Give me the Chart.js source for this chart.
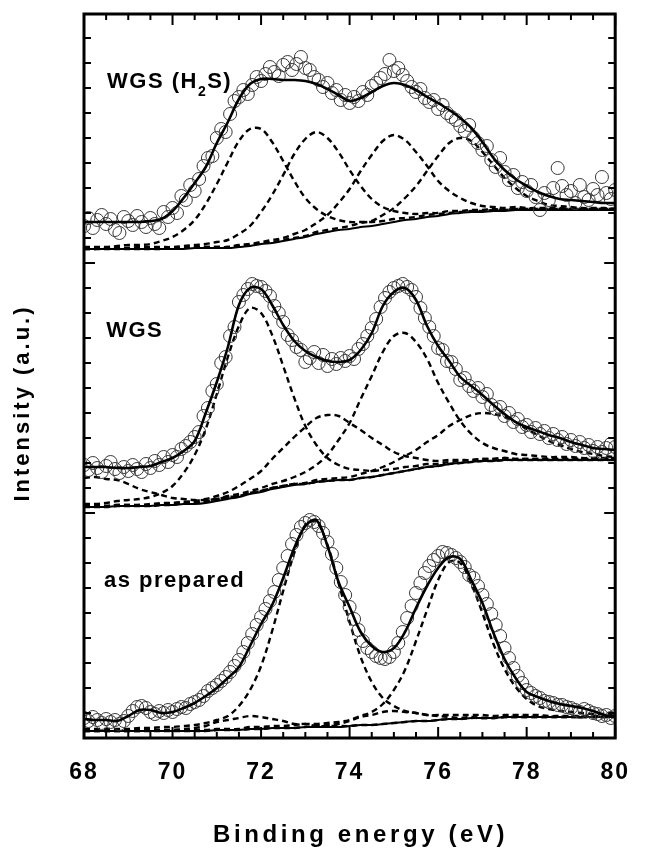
<!DOCTYPE html>
<html>
<head>
<meta charset="utf-8">
<script src="https://cdn.jsdelivr.net/npm/chart.js@4.4.1/dist/chart.umd.min.js"></script>
<style>
  html, body { margin: 0; padding: 0; background: #fff; }
  #wrap { width: 649px; height: 853px; }
</style>
</head>
<body>
<div id="wrap"><canvas id="xps" width="649" height="853"></canvas></div>
<script>
// binding energy grid of the fitted curves (eV)
const energyFit = [
  68, 68.25, 68.5, 68.75, 69, 69.25, 69.5, 69.75, 70, 70.25, 70.5, 70.75,
  71, 71.25, 71.5, 71.75, 72, 72.25, 72.5, 72.75, 73, 73.25, 73.5, 73.75,
  74, 74.25, 74.5, 74.75, 75, 75.25, 75.5, 75.75, 76, 76.25, 76.5, 76.75,
  77, 77.25, 77.5, 77.75, 78, 78.25, 78.5, 78.75, 79, 79.25, 79.5, 79.75, 80
]
// binding energy of the measured points (eV)
const energyData = [
  68, 68.1, 68.2, 68.3, 68.4, 68.5, 68.6, 68.7, 68.8, 68.9,
  69, 69.1, 69.2, 69.3, 69.4, 69.5, 69.6, 69.7, 69.8, 69.9,
  70, 70.1, 70.2, 70.3, 70.4, 70.5, 70.6, 70.7, 70.8, 70.9,
  71, 71.1, 71.2, 71.3, 71.4, 71.5, 71.6, 71.7, 71.8, 71.9,
  72, 72.1, 72.2, 72.3, 72.4, 72.5, 72.6, 72.7, 72.8, 72.9,
  73, 73.1, 73.2, 73.3, 73.4, 73.5, 73.6, 73.7, 73.8, 73.9,
  74, 74.1, 74.2, 74.3, 74.4, 74.5, 74.6, 74.7, 74.8, 74.9,
  75, 75.1, 75.2, 75.3, 75.4, 75.5, 75.6, 75.7, 75.8, 75.9,
  76, 76.1, 76.2, 76.3, 76.4, 76.5, 76.6, 76.7, 76.8, 76.9,
  77, 77.1, 77.2, 77.3, 77.4, 77.5, 77.6, 77.7, 77.8, 77.9,
  78, 78.1, 78.2, 78.3, 78.4, 78.5, 78.6, 78.7, 78.8, 78.9,
  79, 79.1, 79.2, 79.3, 79.4, 79.5, 79.6, 79.7, 79.8, 79.9,
  80
]
const xLabels = [68, 70, 72, 74, 76, 78, 80]

// --- WGS (H2S), top spectrum (intensity incl. offset) ---
const h2sData = [
  512, 520, 510, 518, 523, 514, 519, 508, 505, 521,
  517, 513, 522, 516, 511, 520, 514, 510, 526, 521,
  530, 525, 542, 538, 553, 547, 559, 572, 580, 582,
  600, 609, 606, 624, 637, 641, 648, 644, 653, 661,
  657, 664, 671, 666, 662, 673, 676, 668, 674, 681,
  670, 668, 661, 658, 651, 655, 645, 648, 638, 643,
  635, 641, 637, 646, 643, 652, 655, 660, 664, 678,
  667, 670, 663, 657, 651, 646, 649, 640, 636, 638,
  629, 633, 625, 621, 618, 612, 607, 613, 600, 595,
  588, 592, 578, 571, 580, 566, 558, 563, 550, 556,
  547, 553, 541, 528, 545, 538, 550, 570, 552, 543,
  547, 535, 553, 541, 538, 549, 543, 561, 545, 539,
  548
]
const h2sFit = [
  516, 516, 516, 516, 516, 516, 517, 519, 527, 540, 555, 571,
  595, 616, 639, 654, 659, 659, 658, 658, 657, 654, 649, 643,
  637, 640, 646, 652, 655, 653, 648, 641, 635, 628, 620, 610,
  596, 580, 568, 559, 552, 546, 542, 539, 538, 537, 536, 535, 535
]
const h2sBg = [
  489, 489, 489, 489, 489, 489, 489, 489, 489, 489, 490, 490,
  490, 490, 491, 492, 494, 495, 497, 499, 501, 504, 506, 508,
  509, 511, 512, 514, 516, 518, 519, 521, 522, 524, 525, 526,
  526, 527, 527, 528, 528, 528, 528, 528, 528, 528, 528, 528, 528
]
const h2sPeak1 = [
  491, 491, 491, 492, 493, 493, 494, 497, 501, 508, 518, 534,
  554, 576, 597, 609, 609, 596, 577, 557, 540, 529, 522, 518,
  516, 516, 516, 517, 519, 520, 521, 523, 524, 525, 526, 527,
  527, 528, 528, 529, 529, 529, 529, 529, 529, 529, 529, 529, 529
]
const h2sPeak2 = [
  490, 490, 490, 490, 490, 491, 491, 491, 491, 492, 493, 494,
  496, 498, 504, 512, 526, 543, 563, 584, 599, 606, 600, 586,
  568, 552, 539, 531, 527, 525, 524, 525, 525, 527, 527, 528,
  528, 529, 528, 529, 529, 529, 529, 529, 529, 529, 529, 529, 529
]
const h2sPeak3 = [
  489, 489, 490, 490, 490, 490, 490, 490, 490, 490, 491, 491,
  491, 491, 493, 494, 496, 498, 500, 504, 508, 515, 523, 535,
  549, 567, 583, 597, 603, 598, 586, 572, 557, 547, 540, 535,
  532, 531, 530, 531, 530, 530, 530, 530, 529, 529, 529, 529, 529
]
const h2sPeak4 = [
  489, 489, 489, 489, 489, 489, 489, 489, 490, 490, 491, 491,
  491, 491, 492, 493, 495, 496, 498, 500, 502, 506, 508, 510,
  512, 515, 517, 523, 530, 540, 552, 567, 582, 595, 600, 597,
  586, 573, 560, 550, 542, 537, 533, 532, 531, 530, 530, 530, 529
]

// --- WGS, middle spectrum ---
const wgsData = [
  273, 268, 275, 270, 266, 272, 276, 269, 265, 271,
  267, 273, 269, 266, 274, 270, 277, 273, 281, 276,
  283, 281, 289, 292, 296, 301, 306, 322, 330, 347,
  354, 375, 381, 402, 411, 436, 443, 449, 454, 452,
  451, 447, 442, 432, 425, 416, 403, 398, 391, 388,
  376, 380, 386, 375, 383, 372, 379, 374, 380, 377,
  382, 379, 389, 394, 402, 410, 419, 431, 440, 446,
  450, 452, 454, 451, 448, 441, 430, 420, 411, 402,
  390, 388, 377, 376, 369, 358, 360, 352, 347, 350,
  341, 344, 333, 329, 331, 322, 325, 316, 319, 311,
  313, 306, 310, 304, 307, 300, 304, 298, 301, 294,
  298, 292, 296, 290, 293, 287, 291, 286, 290, 294,
  291
]
const wgsFit = [
  271, 271, 271, 270, 270, 271, 272, 276, 280, 287, 297, 325,
  356, 391, 433, 450, 449, 433, 413, 397, 387, 381, 377, 376,
  378, 388, 405, 432, 446, 450, 438, 412, 392, 377, 361, 352,
  343, 333, 324, 316, 311, 307, 303, 300, 296, 293, 290, 289, 288
]
const wgsBg = [
  231, 231, 231, 232, 232, 232, 232, 233, 233, 234, 234, 235,
  237, 239, 241, 244, 246, 249, 251, 253, 254, 256, 257, 258,
  258, 260, 261, 263, 265, 267, 269, 271, 272, 274, 275, 276,
  277, 277, 278, 278, 278, 278, 278, 278, 278, 278, 278, 278, 278
]
const wgsPeak0 = [
  260, 261, 259, 258, 254, 249, 246, 243, 240, 239, 238, 238,
  239, 241, 242, 245, 247, 250, 252, 254, 254, 256, 257, 258,
  258, 260, 261, 263, 265, 267, 269, 271, 272, 274, 275, 276,
  277, 277, 278, 278, 278, 278, 278, 278, 278, 278, 278, 278, 278
]
const wgsPeak1 = [
  234, 234, 235, 237, 238, 239, 241, 245, 252, 265, 283, 309,
  344, 381, 412, 430, 425, 403, 372, 340, 312, 293, 280, 273,
  269, 268, 267, 268, 269, 271, 272, 274, 274, 276, 277, 278,
  279, 279, 280, 279, 279, 279, 279, 279, 279, 279, 279, 279, 279
]
const wgsPeak2 = [
  232, 232, 232, 233, 233, 233, 234, 235, 235, 236, 237, 239,
  242, 246, 252, 259, 267, 279, 290, 301, 311, 320, 323, 322,
  315, 308, 300, 293, 286, 282, 280, 278, 277, 278, 278, 278,
  279, 279, 280, 279, 279, 279, 279, 279, 279, 279, 279, 279, 279
]
const wgsPeak3 = [
  232, 232, 232, 233, 233, 233, 233, 234, 235, 236, 236, 237,
  239, 242, 244, 247, 250, 254, 257, 261, 266, 273, 283, 298,
  315, 339, 362, 386, 402, 405, 396, 379, 355, 335, 317, 304,
  295, 290, 287, 284, 283, 282, 281, 281, 281, 280, 280, 280, 280
]
const wgsPeak4 = [
  231, 231, 231, 232, 232, 232, 232, 233, 233, 235, 235, 236,
  238, 240, 242, 245, 247, 250, 252, 254, 255, 258, 259, 260,
  261, 264, 267, 271, 276, 282, 288, 296, 303, 312, 318, 323,
  325, 324, 321, 316, 309, 303, 297, 293, 289, 286, 284, 282, 281
]

// --- as prepared, bottom spectrum ---
const prepData = [
  20, 17, 21, 18, 15, 19, 16, 18, 14, 17,
  22, 27, 31, 32, 30, 26, 24, 27, 25, 28,
  26, 29, 31, 30, 34, 36, 38, 42, 47, 50,
  53, 57, 61, 66, 72, 78, 86, 95, 104, 113,
  121, 129, 137, 146, 158, 170, 182, 194, 203, 211,
  215, 218, 216, 212, 205, 196, 184, 170, 156, 143,
  131, 119, 108, 97, 90, 86, 82, 80, 79, 81,
  86, 95, 106, 120, 132, 145, 155, 165, 172, 178,
  182, 186, 185, 183, 180, 176, 171, 163, 160, 152,
  143, 134, 124, 113, 102, 90, 80, 70, 62, 55,
  48, 45, 42, 40, 37, 36, 35, 33, 33, 31,
  30, 28, 26, 29, 27, 25, 24, 22, 23, 20,
  22
]
const prepFit = [
  19, 18, 18, 17, 22, 28, 28, 25, 26, 30, 35, 42,
  50, 60, 71, 92, 114, 133, 160, 190, 212, 218, 192, 156,
  131, 106, 92, 86, 90, 106, 130, 152, 170, 181, 179, 158,
  135, 105, 79, 60, 46, 41, 37, 34, 32, 30, 27, 23, 21
]
const prepBg = [
  7, 7, 7, 7, 7, 7, 7, 7, 7, 7, 7, 7,
  8, 8, 8, 9, 9, 10, 10, 10, 11, 11, 11, 11,
  12, 13, 13, 14, 15, 16, 17, 17, 18, 19, 19, 20,
  20, 20, 21, 21, 21, 21, 21, 21, 21, 21, 21, 21, 21
]
const prepPeak1 = [
  9, 9, 9, 9, 9, 10, 10, 11, 11, 12, 13, 15,
  18, 22, 32, 48, 72, 107, 147, 185, 213, 216, 193, 155,
  116, 81, 56, 40, 32, 27, 25, 23, 23, 23, 23, 23,
  23, 22, 23, 23, 23, 23, 22, 22, 22, 22, 22, 22, 22
]
const prepPeak2 = [
  8, 8, 8, 8, 8, 8, 8, 8, 8, 8, 8, 8,
  9, 9, 9, 11, 11, 12, 12, 13, 14, 14, 15, 16,
  18, 22, 26, 34, 48, 68, 97, 128, 158, 176, 175, 154,
  125, 94, 69, 51, 39, 32, 29, 27, 26, 25, 24, 24, 23
]
const prepSmall1 = [
  7, 7, 7, 7, 7, 7, 8, 8, 8, 9, 10, 12,
  16, 18, 20, 22, 21, 19, 17, 14, 14, 12, 12, 12,
  12, 13, 13, 14, 15, 16, 17, 17, 18, 19, 19, 20,
  20, 20, 21, 21, 21, 21, 21, 21, 21, 21, 21, 21, 21
]
const prepSmall2 = [
  7, 7, 7, 7, 7, 7, 7, 7, 7, 7, 7, 7,
  8, 8, 8, 9, 9, 10, 10, 10, 11, 12, 13, 14,
  17, 21, 23, 26, 27, 26, 25, 23, 22, 21, 20, 21,
  20, 20, 21, 21, 21, 21, 21, 21, 21, 21, 21, 21, 21
]

function toPoints(xs, ys) {
  return xs.map((x, i) => ({ x: x, y: ys[i] }))
}

function fitLine(values, width) {
  return {
    data: toPoints(energyFit, values),
    showLine: true,
    borderColor: '#000',
    borderWidth: width,
    pointRadius: 0,
    tension: 0.35
  }
}

function component(values) {
  let ds = fitLine(values, 2.4)
  ds.borderDash = [6, 4]
  return ds
}

function circles(values) {
  return {
    data: toPoints(energyData, values),
    showLine: false,
    pointStyle: 'circle',
    pointRadius: 6.5,
    borderWidth: 1,
    borderColor: '#383838',
    backgroundColor: 'rgba(0,0,0,0)'
  }
}

// first dataset is drawn on top
let datasets = [
  fitLine(h2sFit, 2.6), fitLine(wgsFit, 2.6), fitLine(prepFit, 2.6),
  circles(h2sData), circles(wgsData), circles(prepData),
  fitLine(h2sBg, 2), fitLine(wgsBg, 2), fitLine(prepBg, 2),
  component(h2sPeak1), component(h2sPeak2), component(h2sPeak3), component(h2sPeak4),
  component(wgsPeak0), component(wgsPeak1), component(wgsPeak2), component(wgsPeak3), component(wgsPeak4),
  component(prepPeak1), component(prepPeak2), component(prepSmall1), component(prepSmall2)
]

const FONT = "'Liberation Sans', Arial, sans-serif"

const framePlugin = {
  id: 'frame',
  beforeDraw(chart) {
    chart.ctx.letterSpacing = '2px'
  },
  afterDatasetsDraw(chart) {
    const { ctx, chartArea: a, scales: { x, y } } = chart
    ctx.save()
    ctx.strokeStyle = '#000'
    ctx.lineWidth = 2
    ctx.beginPath()
    x.ticks.forEach(t => {
      let px = x.getPixelForValue(t.value)
      let len = xLabels.includes(t.value) ? 11 : 6
      ctx.moveTo(px, a.bottom)
      ctx.lineTo(px, a.bottom - len)
      ctx.moveTo(px, a.top)
      ctx.lineTo(px, a.top + len)
    })
    y.ticks.forEach(t => {
      let py = y.getPixelForValue(t.value)
      let len = (t.value - 225) % 250 === 0 ? 11 : 7
      ctx.moveTo(a.left, py)
      ctx.lineTo(a.left + len, py)
      ctx.moveTo(a.right, py)
      ctx.lineTo(a.right - len, py)
    })
    ctx.stroke()
    ctx.lineWidth = 3
    ctx.strokeRect(a.left, a.top, a.right - a.left, a.bottom - a.top)
    ctx.restore()
  },
  afterDraw(chart) {
    const { ctx, chartArea: a, scales: { x, y } } = chart
    ctx.save()
    ctx.fillStyle = '#000'
    ctx.textBaseline = 'alphabetic'

    // panel labels
    ctx.font = 'bold 22px ' + FONT
    ctx.letterSpacing = '1.5px'
    let lx = x.getPixelForValue(68.52)
    let ly = y.getPixelForValue(650)
    ctx.fillText('WGS (H', lx, ly)
    let w = ctx.measureText('WGS (H').width
    ctx.font = 'bold 14px ' + FONT
    ctx.fillText('2', lx + w, ly + 8)
    let w2 = ctx.measureText('2').width
    ctx.font = 'bold 22px ' + FONT
    ctx.fillText('S)', lx + w + w2, ly)

    ctx.fillText('WGS', x.getPixelForValue(68.5), y.getPixelForValue(401))
    ctx.fillText('as prepared', x.getPixelForValue(68.45), y.getPixelForValue(151))

    // axis titles
    ctx.textAlign = 'center'
    ctx.font = 'bold 24px ' + FONT
    ctx.letterSpacing = '3.6px'
    ctx.fillText('Binding energy (eV)', (a.left + a.right) / 2 + 11, 842)

    ctx.font = 'bold 22px ' + FONT
    ctx.letterSpacing = '3px'
    ctx.translate(29, 403)
    ctx.rotate(-Math.PI / 2)
    ctx.fillText('Intensity (a.u.)', 0, 0)
    ctx.restore()
  }
}

new Chart(document.getElementById('xps'), {
  type: 'scatter',
  data: { datasets: datasets },
  options: {
    responsive: false,
    animation: false,
    layout: { autoPadding: false, padding: { top: 14, right: 15, left: 0, bottom: 0 } },
    plugins: { legend: { display: false }, tooltip: { enabled: false } },
    scales: {
      x: {
        type: 'linear',
        min: 68,
        max: 80,
        grid: { display: false, drawTicks: false },
        border: { display: false },
        ticks: {
          stepSize: 0.5,
          autoSkip: false,
          maxRotation: 0,
          padding: 21,
          color: '#000',
          font: { family: FONT, size: 23, weight: 'bold' },
          callback: v => (xLabels.includes(v) ? v : '')
        },
        afterFit: s => { s.height = 115 }
      },
      y: {
        min: 0,
        max: 724,
        grid: { display: false, drawTicks: false },
        border: { display: false },
        ticks: { display: false, stepSize: 25, includeBounds: false },
        afterFit: s => { s.width = 84 }
      }
    }
  },
  plugins: [framePlugin]
})
</script>
</body>
</html>
